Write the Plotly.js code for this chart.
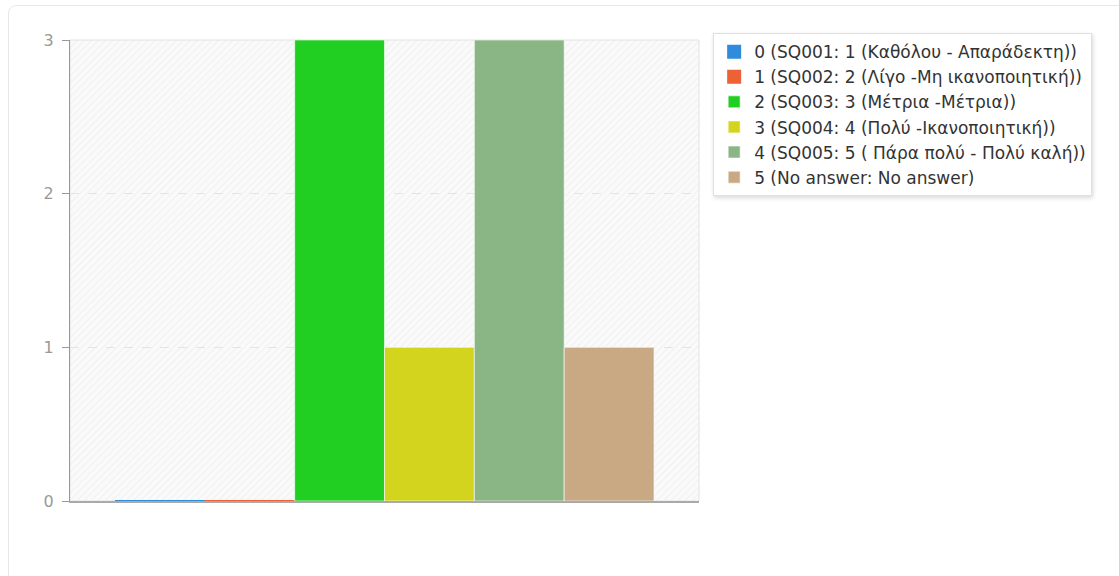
<!DOCTYPE html>
<html>
<head>
<meta charset="utf-8">
<script src="https://cdn.plot.ly/plotly-3.0.1.min.js"></script>
<style>
  html, body { margin: 0; padding: 0; background: #fff; width: 1119px; height: 576px; overflow: hidden; }
  #frame { position: absolute; left: 8px; top: 5px; width: 1140px; height: 590px; border: 1px solid #e8e8e8; border-radius: 8px; }
  #chart { position: absolute; left: 0; top: 0; width: 1119px; height: 576px; }
  #chart .legend rect.bg { filter: drop-shadow(1px 2px 2px rgba(0,0,0,0.15)); }
</style>
</head>
<body>
<div id="frame"></div>
<div id="chart"></div>
<script>
// ---- data ----
const categories = ['Q'];
const seriesNames = [
  '0 (SQ001: 1 (Καθόλου - Απαράδεκτη))',
  '1 (SQ002: 2 (Λίγο -Μη ικανοποιητική))',
  '2 (SQ003: 3 (Μέτρια -Μέτρια))',
  '3 (SQ004: 4 (Πολύ -Ικανοποιητική))',
  '4 (SQ005: 5 ( Πάρα πολύ - Πολύ καλή))',
  '5 (No answer: No answer)'
];
const seriesValues = [0, 0, 3, 1, 3, 1];
const seriesColors = ['#2f8bdc', '#ec6236', '#21cf23', '#d3d41d', '#8ab584', '#c8a983'];
const yTicks = [0, 1, 2, 3];

// ---- traces ----
const traces = seriesNames.map((name, i) => ({
  type: 'bar',
  name: name,
  x: categories,
  y: [seriesValues[i]],
  marker: {
    color: seriesColors[i],
    line: { color: seriesValues[i] === 0 ? seriesColors[i] : 'rgba(255,255,255,0.6)', width: seriesValues[i] === 0 ? 2 : 1 }
  },
  hoverinfo: 'name+y'
}));

const hatch = "data:image/svg+xml;utf8," + encodeURIComponent(
  "<svg xmlns='http://www.w3.org/2000/svg' width='629' height='461'>" +
  "<defs><pattern id='p' width='5' height='5' patternUnits='userSpaceOnUse' patternTransform='rotate(45)'>" +
  "<line x1='0' y1='0' x2='0' y2='5' stroke='#eeeeee' stroke-width='1.6'/></pattern></defs>" +
  "<rect width='100%' height='100%' fill='#fafafa'/>" +
  "<rect width='100%' height='100%' fill='url(#p)'/></svg>");

const layout = {
  width: 1119,
  height: 576,
  margin: { l: 70, r: 420, t: 40, b: 75, pad: 0 },
  paper_bgcolor: 'rgba(0,0,0,0)',
  plot_bgcolor: 'rgba(0,0,0,0)',
  barmode: 'group',
  bargap: 0.143,
  bargroupgap: 0,
  font: { family: 'DejaVu Sans, sans-serif', color: '#333' },
  showlegend: true,
  legend: {
    x: 1.0225, y: 1.015, xanchor: 'left', yanchor: 'top',
    bgcolor: '#fff', bordercolor: '#e0e0e0', borderwidth: 1,
    font: { family: 'DejaVu Sans, sans-serif', size: 17, color: '#333' },
    itemwidth: 30,
    traceorder: 'normal'
  },
  xaxis: {
    showticklabels: false,
    ticks: '',
    showgrid: false,
    zeroline: false,
    showline: true,
    linecolor: '#aaaaaa',
    linewidth: 2,
    fixedrange: true
  },
  yaxis: {
    range: [0, 3],
    tickvals: yTicks,
    ticktext: yTicks.map(String),
    ticks: 'outside',
    ticklen: 7,
    tickcolor: '#999',
    ticklabelstandoff: 5,
    tickfont: { family: 'DejaVu Sans, sans-serif', size: 16, color: '#999' },
    showline: true,
    linecolor: '#999',
    linewidth: 1,
    showgrid: true,
    gridcolor: '#e4e4e4',
    griddash: 'dash',
    gridwidth: 1,
    zeroline: false,
    fixedrange: true
  },
  images: [{
    source: hatch, xref: 'paper', yref: 'paper', x: 0, y: 1, sizex: 1, sizey: 1,
    sizing: 'stretch', layer: 'below', xanchor: 'left', yanchor: 'top'
  }],
  shapes: [{
    type: 'rect', xref: 'paper', yref: 'paper', x0: 0, x1: 1, y0: 0, y1: 1,
    line: { color: '#e2e2e2', width: 1 }, fillcolor: 'rgba(0,0,0,0)', layer: 'below'
  }]
};

Plotly.newPlot('chart', traces, layout, { displayModeBar: false, staticPlot: false });
</script>
</body>
</html>
